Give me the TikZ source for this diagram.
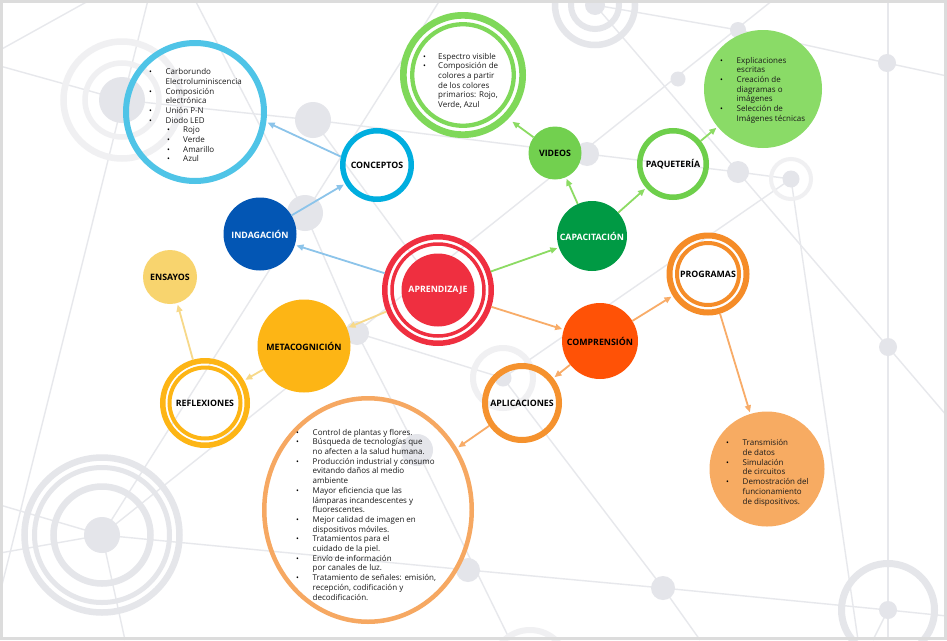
\documentclass[tikz,border=0pt]{standalone}
\usepackage{fontspec}
\setmainfont{Open Sans}
\usetikzlibrary{arrows.meta,shapes.geometric}

\definecolor{bgline}{HTML}{E7E8EC}
\definecolor{bgdot}{HTML}{E4E5EA}
\definecolor{bgring}{HTML}{E5E6EA}
\definecolor{bgfaint}{HTML}{F0F0F2}
\definecolor{framec}{HTML}{DCDCDC}
\definecolor{cyanlist}{HTML}{4FC4E7}
\definecolor{cyanring}{HTML}{00AEDF}
\definecolor{indblue}{HTML}{0356B4}
\definecolor{aprred}{HTML}{EF2F40}
\definecolor{amber}{HTML}{FDB515}
\definecolor{ensyel}{HTML}{F8D46E}
\definecolor{compor}{HTML}{FF5206}
\definecolor{aplor}{HTML}{F5922E}
\definecolor{progor}{HTML}{F58C28}
\definecolor{transor}{HTML}{F7AB62}
\definecolor{bigor}{HTML}{F6A862}
\definecolor{capgr}{HTML}{009A44}
\definecolor{vidgr}{HTML}{72D04F}
\definecolor{paqgr}{HTML}{6ECF4B}
\definecolor{expgr}{HTML}{8ADB67}
\definecolor{espgr}{HTML}{7FD859}
\definecolor{arblue}{HTML}{8CC4EA}
\definecolor{aryel}{HTML}{F7D98A}
\definecolor{argr}{HTML}{8CDB63}
\definecolor{aror}{HTML}{F8AC68}
\definecolor{txt}{HTML}{1A1A1A}

\newcommand\bl[1][16.5pt]{\makebox[#1][l]{\fontsize{7.5}{7.5}\selectfont\color{black}\textbullet}}
\newcommand\nb[1][16.5pt]{\hspace*{#1}}

\tikzset{
  bgl/.style={draw=bgline, line width=1.4pt},
  lab/.style={font=\fontsize{8.8}{10}\selectfont\bfseries, text=black},
  disk/.style={circle, inner sep=0pt, minimum size=#1, lab},
  ringnode/.style={circle, draw, inner sep=0pt, lab},
  conn/.style={line width=1.8pt, -{Triangle[length=7pt,width=6pt]}, shorten >=1.5pt},
  listtext/.style={inner sep=0pt, anchor=north west, text=txt, font=\fontsize{8}{9.7}\selectfont},
}

\begin{document}
\begin{tikzpicture}[x=1pt,y=-1pt]
\useasboundingbox (0,0) rectangle (947,640);
\fill[white] (0,0) rectangle (947,640);

% ---------- background network ----------
\begin{scope}[bgl]
\draw (0,66) -- (122,100) -- (313,120) -- (587,154) -- (738,172) -- (791,179);
\draw (102,535) -- (773,0);
\draw (102,535) -- (440,0);
\draw (0,505) -- (102,535) -- (468,570) -- (663,588) -- (888,610) -- (947,616);
\draw (0,553) -- (102,535) -- (125,640);
\draw (195,0) -- (305,213) -- (357,333) -- (417,450) -- (510,640);
\draw (595,5) -- (738,30) -- (887,63) -- (947,76);
\draw (595,5) -- (738,172) -- (888,347) -- (947,416);
\draw (888,0) -- (888,640);
\draw (791,179) -- (858,640);
\draw (888,610) -- (873,640);
\draw (357,333) -- (503,378) -- (663,588) -- (700,640);
\draw (503,378) -- (791,179);
\draw (313,120) -- (438,290);
\draw (0,50) -- (90,0);
\draw (148,0) -- (0,593);
\end{scope}

% concentric decorations
\draw[bgfaint, line width=6.5pt] (122,100) circle (58.5pt);
\draw[bgfaint, line width=5.5pt] (122,100) circle (37pt);
\fill[bgdot] (122,100) circle (23pt);

\draw[bgring, line width=6.5pt] (102,535) circle (77.5pt);
\draw[bgring, line width=5pt] (102,535) circle (67.5pt);
\draw[bgring, line width=6.5pt] (102,535) circle (48.5pt);
\fill[bgdot] (102,535) circle (18pt);

\draw[bgring, line width=6.5pt] (595,5) circle (40pt);
\draw[bgring, line width=6pt] (595,5) circle (24pt);
\fill[bgdot] (595,5) circle (10pt);

\draw[bgfaint, line width=4pt] (791,179) circle (20pt);
\fill[bgdot] (791,179) circle (8.5pt);

\draw[bgring, line width=7pt] (888,610) circle (46.5pt);
\fill[bgdot] (888,610) circle (9pt);

\draw[bgfaint, line width=6pt] (503,378) circle (30pt);
\fill[bgdot] (503,378) circle (8.5pt);

\draw[bgfaint, line width=6pt] (530,668) circle (38pt);

% dots
\fill[bgdot] (313,120) circle (18pt);
\fill[bgdot] (305,213) circle (18pt);
\fill[bgdot] (357,333) circle (12pt);
\fill[bgdot] (587,154) circle (12pt);
\fill[bgdot] (678,79) circle (7.5pt);
\fill[bgdot] (738,30) circle (8pt);
\fill[bgdot] (738,172) circle (11pt);
\fill[bgdot] (887,63) circle (9pt);
\fill[bgdot] (888,347) circle (9pt);
\fill[bgdot] (663,588) circle (12pt);
\fill[bgdot] (417,450) circle (16pt);
\fill[bgdot] (468,570) circle (12pt);

% frame
\draw[framec, line width=3pt] (1.5,1.5) rectangle (945.5,638.5);

% ---------- main nodes ----------
% APRENDIZAJE (triple)
\fill[aprred] (438,290) circle (36.5pt);
\draw[aprred, line width=3.5pt] (438,290) circle (46pt);
\node[ringnode, draw=aprred, line width=5.5pt, minimum size=106.5pt, text=white] (apr) at (438,290) {APRENDIZAJE};

\node[disk=73pt, fill=indblue, text=white] (ind) at (260,234) {INDAGACIÓN};
\node[ringnode, draw=cyanring, line width=5.5pt, minimum size=68.5pt] (conc) at (377,165) {CONCEPTOS};
\node[ringnode, draw=cyanlist, line width=6pt, minimum size=138pt] (carb) at (195,112) {};

\node[disk=93pt, fill=amber] (meta) at (304,346) {METACOGNICIÓN};
\node[disk=54pt, fill=ensyel] (ens) at (170,277) {ENSAYOS};
\node[ringnode, draw=amber, line width=5.5pt, minimum size=84.5pt] (refl) at (205,403) {REFLEXIONES};
\draw[amber, line width=4pt] (refl.center) circle (35.5pt);

\node[disk=76pt, fill=compor] (comp) at (600,341) {COMPRENSIÓN};
\node[ringnode, draw=aplor, line width=6pt, minimum size=74pt] (apl) at (522,403) {APLICACIONES};
\node[ringnode, draw=progor, line width=6pt, minimum size=77pt] (prog) at (708,274) {PROGRAMAS};
\draw[progor, line width=4pt] (prog.center) circle (31pt);
\node[disk=115pt, fill=transor] (trans) at (767,469) {};
\node[ellipse, draw=bigor, line width=4.5pt, inner sep=0pt, minimum width=207.5pt, minimum height=223.5pt] (big) at (368,510) {};

\node[disk=70pt, fill=capgr, text=white] (cap) at (592,236) {CAPACITACIÓN};
\node[disk=53pt, fill=vidgr] (vid) at (555,153) {VIDEOS};
\node[ringnode, draw=paqgr, line width=5.5pt, minimum size=66.5pt] (paq) at (673,164) {PAQUETERÍA};
\node[disk=118pt, fill=expgr] (exp) at (763,89) {};
\node[ringnode, draw=espgr, line width=6.7pt, minimum size=119.3pt] (esp) at (463,75) {};
\draw[espgr, line width=4.3pt] (esp.center) circle (50.8pt);

% ---------- connectors ----------
\draw[conn, arblue] (apr) -- (ind);
\draw[conn, arblue] (ind) -- (conc);
\draw[conn, arblue] (conc.167) -- (carb.-8);
\draw[conn, aryel] (apr) -- (meta);
\draw[conn, aryel] (meta) -- (refl);
\draw[conn, aryel] (refl) -- (ens);
\draw[conn, argr] (apr) -- (cap);
\draw[conn, argr] (cap) -- (vid);
\draw[conn, argr] (cap) -- (paq);
\draw[conn, argr, shorten >=5pt] (vid) -- (esp.-44);
\draw[conn, argr] (paq) -- (exp);
\draw[conn, aror] (apr) -- (comp);
\draw[conn, aror] (comp) -- (prog);
\draw[conn, aror] (comp) -- (apl);
\draw[conn, aror] (apl) -- (big);
\draw[conn, aror] (prog) -- (trans);

% ---------- list texts ----------
\node[listtext] (carbtxt) at (149,67.7) {\begin{tabular}{@{}l@{}}
\bl Carborundo\\
\nb Electroluminiscencia\\
\bl Composición\\
\nb electrónica\\
\bl Unión P-N\\
\bl Diodo LED\\
\nb[18pt]\bl[16pt]Rojo\\
\nb[18pt]\bl[16pt]Verde\\
\nb[18pt]\bl[16pt]Amarillo\\
\nb[18pt]\bl[16pt]Azul
\end{tabular}};

\node[listtext] (esptxt) at (423,52.2) {\begin{tabular}{@{}l@{}}
\bl[15pt]Espectro visible\\
\bl[15pt]Composición de\\
\nb[15pt]colores a partir\\
\nb[15pt]de los colores\\
\nb[15pt]primarios: Rojo,\\
\nb[15pt]Verde, Azul
\end{tabular}};

\node[listtext] (exptxt) at (720,56.2) {\begin{tabular}{@{}l@{}}
\bl Explicaciones\\
\nb escritas\\
\bl Creación de\\
\nb diagramas o\\
\nb imágenes\\
\bl Selección de\\
\nb Imágenes técnicas
\end{tabular}};

\node[listtext] (transtxt) at (726,438.9) {\begin{tabular}{@{}l@{}}
\bl Transmisión\\
\nb de datos\\
\bl Simulación\\
\nb de circuitos\\
\bl Demostración del\\
\nb funcionamiento\\
\nb de dispositivos.
\end{tabular}};

\node[listtext] (bigtxt) at (296,428.2) {\begin{tabular}{@{}l@{}}
\bl Control de plantas y flores.\\
\bl Búsqueda de tecnologías que\\
\nb no afecten a la salud humana.\\
\bl Producción industrial y consumo\\
\nb evitando daños al medio\\
\nb ambiente\\
\bl Mayor eficiencia que las\\
\nb lámparas incandescentes y\\
\nb fluorescentes.\\
\bl Mejor calidad de imagen en\\
\nb dispositivos móviles.\\
\bl Tratamientos para el\\
\nb cuidado de la piel.\\
\bl Envío de información\\
\nb por canales de luz.\\
\bl Tratamiento de señales: emisión,\\
\nb recepción, codificación y\\
\nb decodificación.
\end{tabular}};
\end{tikzpicture}
\end{document}
